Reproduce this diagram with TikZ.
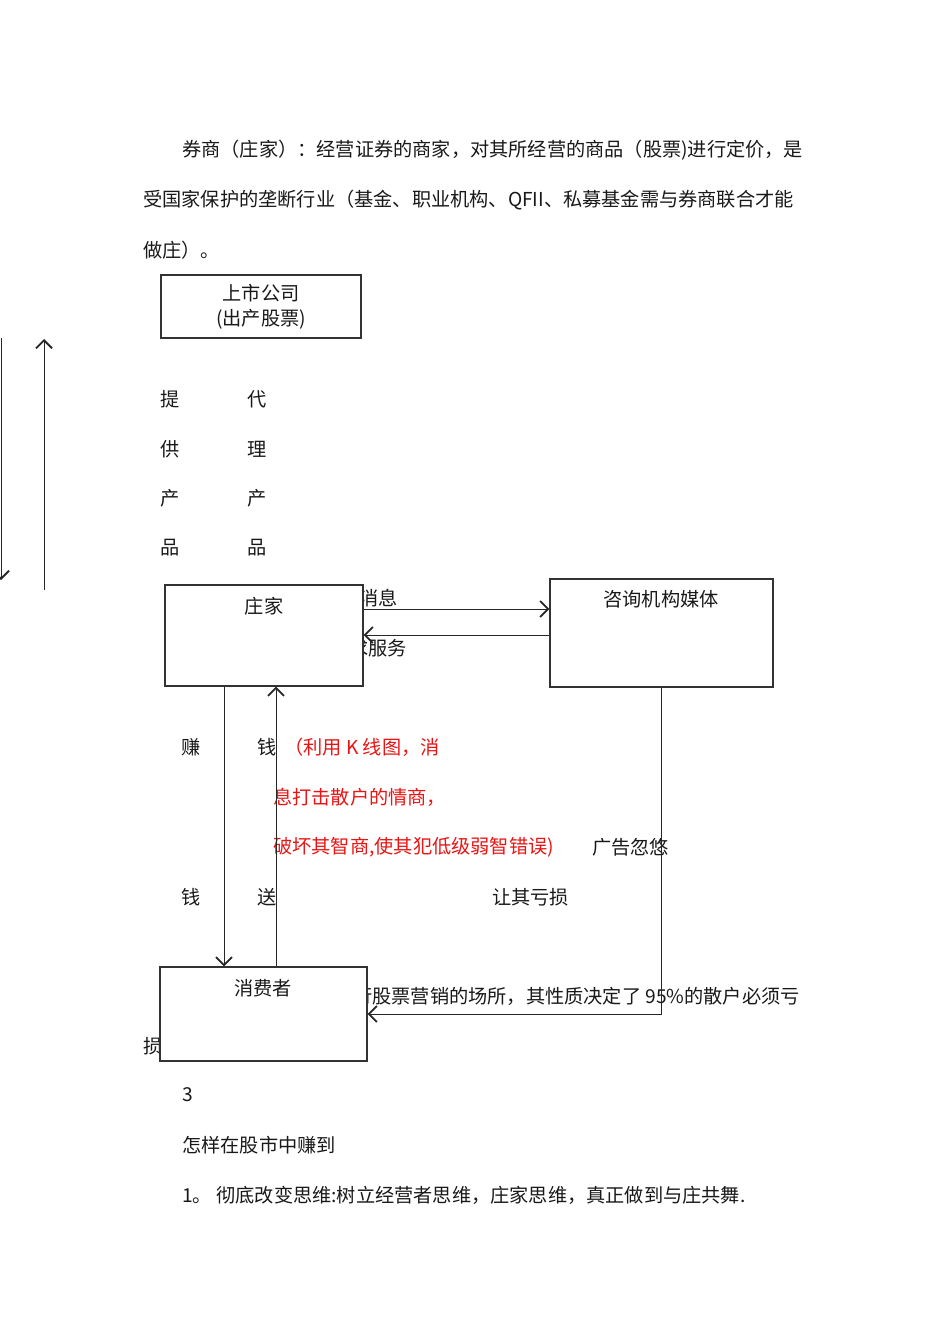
\documentclass[tikz,border=0pt]{standalone}
\usepackage{fontspec}
\setmainfont{Noto Sans CJK SC}
\usetikzlibrary{arrows.meta}
\begin{document}
\begin{tikzpicture}[x=0.75pt,y=-0.75pt,
  every node/.style={font=\fontsize{14.4pt}{17pt}\selectfont, text=black!90},
  txt/.style={anchor=west, inner sep=0pt},
  ctr/.style={anchor=center, inner sep=0pt},
  red/.style={txt, text={rgb,255:red,235;green,20;blue,20}},
  box/.style={draw=black!80, line width=0.8pt, fill=white, inner sep=0pt},
  arr/.style={draw=black!85, line width=0.75pt, -{Straight Barb[length=6pt,width=12pt,line width=1.4pt]}}]
\useasboundingbox[fill=white] (0,0) rectangle (950,1344);

% paragraph
\node[txt] (p1) at (182,150) {券商（庄家）：经营证券的商家，对其所经营的商品（股票)进行定价，是};
\node[txt] (p2) at (143,200) {受国家保护的垄断行业（基金、职业机构、QFII、私募基金需与券商联合才能};
\node[txt] (p3) at (143,250) {做庄）。};

% texts partly covered by boxes
\node[txt] (xx) at (359,598) {消息};
\node[txt] (fw) at (349,648) {求服务};
\node[txt] (cs) at (353,996) {行股票营销的场所，其性质决定了 95\%的散户必须亏};
\node[txt] (ks) at (143,1046) {损};

% boxes
\node[box, minimum width=150pt, minimum height=47.25pt, align=center, font=\fontsize{14.4pt}{19pt}\selectfont] (ss) at (261,306.5) {上市公司\\(出产股票)};
\node[box, minimum width=148.5pt, minimum height=75.75pt] (zj) at (264,635.5) {};
\node[box, minimum width=167.25pt, minimum height=81pt] (zx) at (661.5,633) {};
\node[box, minimum width=155.25pt, minimum height=70.5pt] (xf) at (263.5,1014) {};
\node[ctr] (zjt) at (264,606) {庄家};
\node[ctr] (zxt) at (661,599) {咨询机构媒体};
\node[ctr] (xft) at (263,988) {消费者};

% vertical labels
\node[ctr] (a1) at (170,399) {提};
\node[ctr] (a2) at (170,449) {供};
\node[ctr] (a3) at (170,498) {产};
\node[ctr] (a4) at (170,548) {品};
\node[ctr] (b1) at (257,399) {代};
\node[ctr] (b2) at (257,449) {理};
\node[ctr] (b3) at (257,498) {产};
\node[ctr] (b4) at (257,548) {品};
\node[ctr] (c1) at (191,747) {赚};
\node[ctr] (c2) at (267,747) {钱};
\node[ctr] (c3) at (191,897) {钱};
\node[ctr] (c4) at (267,897) {送};

% red text
\node[red] (r1) at (284,747) {（利用 K 线图，消};
\node[red] (r2) at (273,797) {息打击散户的情商，};
\node[red] (r3) at (273,847) {破坏其智商,使其犯低级弱智错误)};
\node[txt] (gg) at (592,847) {广告忽悠};
\node[txt] (rq) at (492,897) {让其亏损};

% bottom text
\node[txt] (n3) at (182,1095) {3};
\node[txt] (q1) at (182,1145) {怎样在股市中赚到};
\node[txt] (q2) at (182,1195) {1。 彻底改变思维:树立经营者思维，庄家思维，真正做到与庄共舞.};

% connector coordinates
\coordinate (L1t) at (1,338);
\coordinate (L1b) at (1,580);
\coordinate (L2b) at (44,590);
\coordinate (L2t) at (44,339);
\coordinate (y1) at (0,609);
\coordinate (y2) at (0,635);
\coordinate (xa) at (224,0);
\coordinate (xb) at (276,0);
\coordinate (xc) at (661,0);
\coordinate (yc) at (0,1014);

% connectors
\draw[arr] (L1t) -- (L1b);
\draw[arr] (L2b) -- (L2t);
\draw[arr] (zj.east |- y1) -- (zx.west |- y1);
\draw[arr] (zx.west |- y2) -- (zj.east |- y2);
\draw[arr] (zj.south -| xa) -- (xf.north -| xa);
\draw[arr] (xf.north -| xb) -- (zj.south -| xb);
\draw[arr] (zx.south -| xc) -- (xc |- yc) -- (xf.east |- yc);
\end{tikzpicture}
\end{document}
